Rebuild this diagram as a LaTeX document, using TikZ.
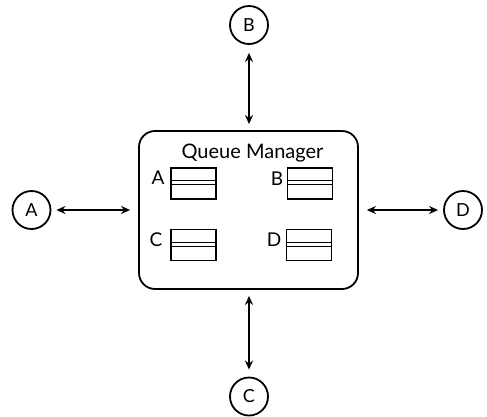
\documentclass[tikz,border=0pt]{standalone}
\usepackage{fontspec}
\setmainfont{Lato}
\usetikzlibrary{arrows.meta}
\begin{document}
\begin{tikzpicture}[x=1pt,y=-1pt,
  lw/.style={line width=1.8pt},
  qmbox/.style={draw,lw,rounded corners=16pt,minimum width=219pt,minimum height=158pt,inner sep=0pt},
  endpt/.style={draw,lw,circle,minimum size=38pt,inner sep=0pt,font=\fontsize{18}{21}\selectfont},
  queue/.style={draw,line width=1.4pt,minimum width=45pt,minimum height=31pt,inner sep=0pt},
  qlabel/.style={font=\fontsize{19}{22}\selectfont,inner sep=0pt},
  link/.style={lw,{Stealth[length=9pt,width=8pt]}-{Stealth[length=9pt,width=8pt]}}
]
\useasboundingbox (0,0) rectangle (487,416);
\node[qmbox] (QM) at (248.5,210) {};
\node[font=\fontsize{20}{24}\selectfont,inner sep=0pt] (title) at (252.5,153) {Queue Manager};
% queues
\node[queue] (qA) at (193.5,183.5) {};
\node[queue] (qB) at (310,183.5) {};
\node[queue] (qC) at (193.5,245) {};
\node[queue] (qD) at (309,245) {};
\foreach \q in {qA,qB,qC,qD}{
  \draw[line width=1.3pt] ([yshift=-13.5pt]\q.north west) -- ([yshift=-13.5pt]\q.north east);
  \draw[line width=1.3pt] ([yshift=-17.5pt]\q.north west) -- ([yshift=-17.5pt]\q.north east);
}
\node[qlabel] (lA) at (158,178) {A};
\node[qlabel] (lB) at (277,179) {B};
\node[qlabel] (lC) at (156,240) {C};
\node[qlabel] (lD) at (274,240) {D};
% endpoints
\node[endpt] (cA) at (31.5,210) {A};
\node[endpt] (cB) at (249,25) {B};
\node[endpt] (cC) at (249,396.5) {C};
\node[endpt] (cD) at (463,210) {D};
\draw[link,shorten <=5pt,shorten >=8pt] (cA) -- (cA -| QM.west);
\draw[link,shorten <=5pt,shorten >=8pt] (cD) -- (cD -| QM.east);
\draw[link,shorten <=8pt,shorten >=6pt] (cB) -- (cB |- QM.north);
\draw[link,shorten <=7pt,shorten >=6pt] (cC) -- (cC |- QM.south);
\end{tikzpicture}
\end{document}
